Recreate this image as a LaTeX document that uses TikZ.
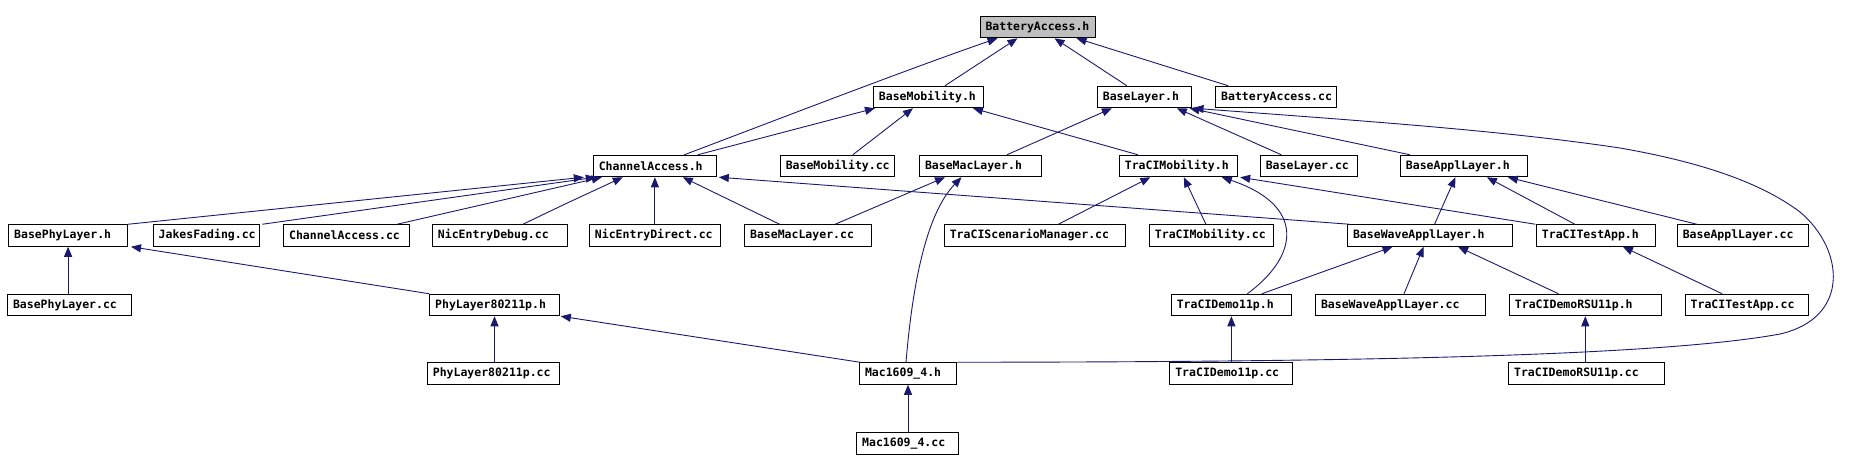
\documentclass[tikz,border=0pt]{standalone}
\usepackage{fontspec}
\newfontfamily\dfont{DejaVu Sans Mono}
\usetikzlibrary{arrows.meta}
\definecolor{edgeblue}{RGB}{25,25,112}
\definecolor{grayfill}{RGB}{191,191,191}
\begin{document}
\begin{tikzpicture}[x=1pt,y=-1pt,
  filebox/.style={draw=black, line width=1pt, fill=white, text width=#1,
    inner xsep=5.5pt, inner ysep=0pt, minimum height=21.5pt, align=left,
    font=\dfont\bfseries\fontsize{11.5}{13}\selectfont, anchor=center},
  dep/.style={draw=edgeblue, line width=0.9pt,
    -{Triangle[length=10pt,width=8pt]}}]
\useasboundingbox (0,0) rectangle (1864,471);
% row 0
\node[filebox=104pt, fill=grayfill] (BAh) at (1037.5,27) {BatteryAccess.h};
% row 1
\node[filebox=99.5pt] (BMh) at (928.7,97) {BaseMobility.h};
\node[filebox=82.7pt] (BLh) at (1144.2,97) {BaseLayer.h};
\node[filebox=110pt] (BAcc) at (1276.2,97) {BatteryAccess.cc};
% row 2
\node[filebox=112pt] (CAh) at (654.8,166) {ChannelAccess.h};
\node[filebox=103.6pt] (BMcc) at (837.6,166) {BaseMobility.cc};
\node[filebox=111pt] (BMLh) at (980.5,166) {BaseMacLayer.h};
\node[filebox=107.3pt] (TMh) at (1178.5,166) {TraCIMobility.h};
\node[filebox=86pt] (BLcc) at (1308.8,166) {BaseLayer.cc};
\node[filebox=116pt] (BALh) at (1463.9,166) {BaseApplLayer.h};
% row 3
\node[filebox=107.8pt] (BPLh) at (68.1,235.5) {BasePhyLayer.h};
\node[filebox=95.6pt] (JFcc) at (206.5,235.5) {JakesFading.cc};
\node[filebox=115pt] (CAcc) at (346.6,235.5) {ChannelAccess.cc};
\node[filebox=123.7pt] (NEDcc) at (499.8,235.5) {NicEntryDebug.cc};
\node[filebox=120pt] (NDIcc) at (654.9,235.5) {NicEntryDirect.cc};
\node[filebox=116pt] (BMLcc) at (808.1,235.5) {BaseMacLayer.cc};
\node[filebox=169.8pt] (TSMcc) at (1034.7,235.5) {TraCIScenarioManager.cc};
\node[filebox=113pt] (TMcc) at (1211.4,235.5) {TraCIMobility.cc};
\node[filebox=153.7pt] (BWALh) at (1429.9,235.5) {BaseWaveApplLayer.h};
\node[filebox=108pt] (TTAh) at (1595.9,235.5) {TraCITestApp.h};
\node[filebox=120pt] (BALcc) at (1742.8,235.5) {BaseApplLayer.cc};
% row 4
\node[filebox=112.5pt] (BPLcc) at (69.3,305) {BasePhyLayer.cc};
\node[filebox=118.6pt] (PLh) at (494.5,305) {PhyLayer80211p.h};
\node[filebox=109.2pt] (TDh) at (1231.4,305) {TraCIDemo11p.h};
\node[filebox=158.8pt] (BWALcc) at (1400.4,305) {BaseWaveApplLayer.cc};
\node[filebox=140.7pt] (TDRh) at (1585.3,305) {TraCIDemoRSU11p.h};
\node[filebox=112.3pt] (TTAcc) at (1746.8,305) {TraCITestApp.cc};
% row 5
\node[filebox=121.3pt] (PLcc) at (493.5,373.5) {PhyLayer80211p.cc};
\node[filebox=86pt] (Mh) at (908,373.5) {Mac1609\_4.h};
\node[filebox=112pt] (TDcc) at (1231.3,373.5) {TraCIDemo11p.cc};
\node[filebox=144.6pt] (TDRcc) at (1586.4,373.5) {TraCIDemoRSU11p.cc};
% row 6
\node[filebox=90.7pt] (Mcc) at (907.5,443.3) {Mac1609\_4.cc};

% edges to BatteryAccess.h
\draw[dep] ([xshift=91.5pt]CAh.north west) .. controls (745,132) and (905,70) .. ([xshift=18pt]BAh.south west);
\draw[dep] ([xshift=72pt]BMh.north west) -- ([xshift=38pt]BAh.south west);
\draw[dep] ([xshift=30pt]BLh.north west) -- ([xshift=75pt]BAh.south west);
\draw[dep] ([xshift=13pt]BAcc.north west) -- ([xshift=97pt]BAh.south west);
% edges to BaseMobility.h
\draw[dep] ([xshift=105pt]CAh.north west) -- ([xshift=2pt]BMh.south west);
\draw[dep] ([xshift=73pt]BMcc.north west) -- ([xshift=40pt]BMh.south west);
\draw[dep] ([xshift=19pt]TMh.north west) -- ([xshift=100pt]BMh.south west);
% edges to BaseLayer.h
\draw[dep] ([xshift=88pt]BMLh.north west) -- ([xshift=15pt]BLh.south west);
\draw[dep] ([xshift=21.5pt]BLcc.north west) -- ([xshift=80pt]BLh.south west);
\draw[dep] ([xshift=10pt]BALh.north west) -- ([xshift=-2pt]BLh.south east);
\draw[dep] (Mh.north east) .. controls (1300,362) and (1650,358) .. (1780,334)
  .. controls (1850,318) and (1845,250) .. (1800,212)
  .. controls (1760,182) and (1700,162) .. (1620,148)
  .. controls (1500,130) and (1350,120) .. ([xshift=2pt]BLh.south east);
% edges to ChannelAccess.h
\draw[dep] (BPLh.north east) -- ([xshift=-9pt]CAh.south west);
\draw[dep] ([xshift=2pt]JFcc.north east) -- ([xshift=3pt]CAh.south west);
\draw[dep] ([xshift=114pt]CAcc.north west) -- ([xshift=9pt]CAh.south west);
\draw[dep] ([xshift=91pt]NEDcc.north west) .. controls (565,204) .. ([xshift=30pt]CAh.south west);
\draw[dep] (NDIcc.north) -- (NDIcc.north |- CAh.south);
\draw[dep] ([xshift=35.5pt]BMLcc.north west) -- ([xshift=90pt]CAh.south west);
\draw[dep] ([xshift=2.5pt]BWALh.north west) -- ([xshift=2pt]CAh.south east);
% edges to BaseMacLayer.h
\draw[dep] ([xshift=91pt]BMLcc.north west) -- ([xshift=26pt]BMLh.south west);
\draw[dep] ([xshift=47pt]Mh.north west) .. controls (912,290) and (925,215) .. ([xshift=42.5pt]BMLh.south west);
% edges to TraCIMobility.h
\draw[dep] ([xshift=114.5pt]TSMcc.north west) -- ([xshift=31.5pt]TMh.south west);
\draw[dep] ([xshift=57pt]TMcc.north west) -- ([xshift=65pt]TMh.south west);
\draw[dep] ([xshift=76.5pt]TDh.north west) .. controls (1300,255) and (1305,205) .. ([xshift=103pt]TMh.south west);
\draw[dep] ([xshift=-0.5pt]TTAh.north west) -- ([xshift=2pt]TMh.south east);
% edges to BaseApplLayer.h
\draw[dep] ([xshift=87.5pt]BWALh.north west) -- ([xshift=55.5pt]BALh.south west);
\draw[dep] ([xshift=39pt]TTAh.north west) -- ([xshift=87pt]BALh.south west);
\draw[dep] ([xshift=20pt]BALcc.north west) -- ([xshift=108pt]BALh.south west);
% edges to BaseWaveApplLayer.h
\draw[dep] ([xshift=91pt]TDh.north west) -- ([xshift=45.5pt]BWALh.south west);
\draw[dep] ([xshift=89pt]BWALcc.north west) -- ([xshift=76.5pt]BWALh.south west);
\draw[dep] ([xshift=49.5pt]TDRh.north west) -- ([xshift=111pt]BWALh.south west);
% edge to TraCITestApp.h
\draw[dep] ([xshift=37.5pt]TTAcc.north west) -- ([xshift=87pt]TTAh.south west);
% edges to BasePhyLayer.h
\draw[dep] (BPLcc.north -| BPLh.south) -- (BPLh.south);
\draw[dep] (PLh.north west) -- ([xshift=3pt]BPLh.south east);
% edges to PhyLayer80211p.h
\draw[dep] (PLcc.north -| PLh.south) -- (PLh.south);
\draw[dep] ([xshift=1pt]Mh.north west) -- ([xshift=1pt]PLh.south east);
% vertical edges
\draw[dep] (Mcc.north -| Mh.south) -- (Mh.south);
\draw[dep] (TDcc.north -| TDh.south) -- (TDh.south);
\draw[dep] (TDRcc.north -| TDRh.south) -- (TDRh.south);
\end{tikzpicture}
\end{document}
